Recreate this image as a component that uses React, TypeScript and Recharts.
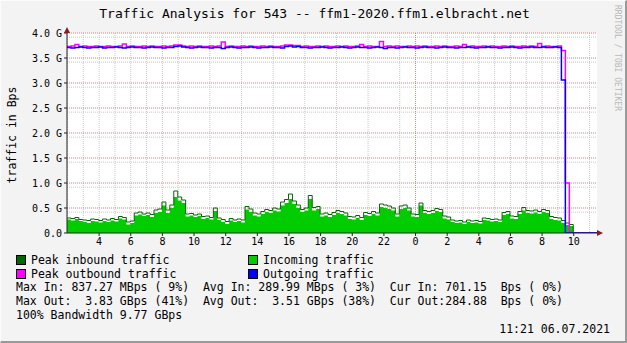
import React from 'react';
import { ComposedChart, Area, Line, XAxis, YAxis, CartesianGrid } from 'recharts';

// 15 minute samples, hours counted from midnight of 05.07.2021
const START_HOUR = 1.97;
const STEP_HOURS = 0.25;

// values in G (Bps)
const incoming = [
  0.27, 0.25, 0.28, 0.24, 0.22, 0.2, 0.24, 0.23, 0.21, 0.24,
  0.22, 0.25, 0.23, 0.29, 0.27, 0.17, 0.2, 0.35, 0.37, 0.34,
  0.36, 0.32, 0.4, 0.42, 0.55, 0.4, 0.5, 0.72, 0.65, 0.6,
  0.33, 0.35, 0.32, 0.34, 0.28, 0.3, 0.27, 0.44, 0.26, 0.22,
  0.18, 0.25, 0.22, 0.24, 0.21, 0.47, 0.42, 0.35, 0.33, 0.38,
  0.42, 0.4, 0.45, 0.43, 0.55, 0.6, 0.68, 0.58, 0.5, 0.42,
  0.45, 0.68, 0.45, 0.48, 0.33, 0.35, 0.32, 0.36, 0.4, 0.38,
  0.35, 0.28, 0.27, 0.3, 0.26, 0.36, 0.34, 0.38, 0.35, 0.52,
  0.5, 0.48, 0.45, 0.33, 0.48, 0.5, 0.45, 0.33, 0.32, 0.55,
  0.4, 0.38, 0.4, 0.44, 0.42, 0.29, 0.27, 0.22, 0.2, 0.21,
  0.18, 0.22, 0.2, 0.21, 0.19, 0.26, 0.25, 0.23, 0.24, 0.22,
  0.36, 0.38, 0.29, 0.28, 0.38, 0.45, 0.4, 0.39, 0.41, 0.38,
  0.42, 0.4, 0.28, 0.26, 0.25, 0.2, 0.16, 0.14, 0, 0,
  0, 0, 0, 0, 0,
];

const peakIn = [
  0.3, 0.29, 0.31, 0.27, 0.26, 0.25, 0.28, 0.27, 0.25, 0.28,
  0.26, 0.29, 0.27, 0.33, 0.31, 0.22, 0.24, 0.4, 0.42, 0.38,
  0.4, 0.37, 0.46, 0.48, 0.62, 0.46, 0.56, 0.84, 0.72, 0.66,
  0.38, 0.39, 0.36, 0.38, 0.33, 0.34, 0.31, 0.5, 0.3, 0.27,
  0.23, 0.29, 0.26, 0.28, 0.26, 0.53, 0.48, 0.4, 0.38, 0.43,
  0.47, 0.45, 0.5, 0.48, 0.62, 0.67, 0.78, 0.64, 0.56, 0.47,
  0.5, 0.75, 0.51, 0.53, 0.38, 0.4, 0.37, 0.41, 0.45, 0.43,
  0.4, 0.33, 0.32, 0.35, 0.31, 0.41, 0.39, 0.43, 0.4, 0.58,
  0.56, 0.54, 0.5, 0.38, 0.54, 0.56, 0.5, 0.38, 0.37, 0.6,
  0.45, 0.43, 0.45, 0.49, 0.47, 0.34, 0.32, 0.26, 0.24, 0.25,
  0.22, 0.26, 0.24, 0.25, 0.23, 0.3, 0.29, 0.27, 0.28, 0.26,
  0.41, 0.43, 0.34, 0.33, 0.43, 0.51, 0.45, 0.44, 0.46, 0.43,
  0.47, 0.45, 0.33, 0.31, 0.3, 0.25, 0.2, 0.17, 0, 0,
  0, 0, 0, 0, 0,
];

const outgoing = [
  3.71, 3.7, 3.71, 3.72, 3.71, 3.7, 3.71, 3.71, 3.72, 3.7,
  3.71, 3.71, 3.72, 3.71, 3.7, 3.71, 3.72, 3.71, 3.71, 3.7,
  3.71, 3.72, 3.71, 3.71, 3.7, 3.71, 3.71, 3.73, 3.74, 3.72,
  3.71, 3.7, 3.71, 3.72, 3.71, 3.71, 3.7, 3.71, 3.71, 3.69,
  3.71, 3.72, 3.71, 3.7, 3.71, 3.71, 3.72, 3.71, 3.7, 3.71,
  3.71, 3.72, 3.71, 3.71, 3.7, 3.73, 3.74, 3.72, 3.73, 3.71,
  3.71, 3.7, 3.71, 3.71, 3.72, 3.71, 3.7, 3.71, 3.71, 3.72,
  3.71, 3.7, 3.71, 3.72, 3.71, 3.71, 3.7, 3.71, 3.72, 3.71,
  3.69, 3.71, 3.71, 3.7, 3.71, 3.72, 3.71, 3.71, 3.7, 3.71,
  3.72, 3.71, 3.71, 3.7, 3.71, 3.72, 3.71, 3.71, 3.7, 3.71,
  3.71, 3.72, 3.71, 3.7, 3.71, 3.71, 3.72, 3.71, 3.71, 3.7,
  3.71, 3.71, 3.72, 3.71, 3.7, 3.71, 3.71, 3.72, 3.71, 3.71,
  3.72, 3.71, 3.71, 3.72, 3.71, 3.06, 0, 0, 0, 0,
  0, 0, 0, 0, 0,
];

const peakOut = [
  3.73, 3.74, 3.77, 3.73, 3.74, 3.73, 3.73, 3.74, 3.73, 3.73,
  3.74, 3.73, 3.73, 3.74, 3.78, 3.73, 3.74, 3.73, 3.73, 3.74,
  3.73, 3.74, 3.73, 3.73, 3.74, 3.73, 3.74, 3.76, 3.76, 3.74,
  3.73, 3.74, 3.73, 3.74, 3.73, 3.73, 3.74, 3.73, 3.74, 3.82,
  3.73, 3.74, 3.73, 3.73, 3.74, 3.73, 3.74, 3.73, 3.73, 3.74,
  3.73, 3.74, 3.73, 3.73, 3.74, 3.76, 3.76, 3.75, 3.75, 3.73,
  3.74, 3.73, 3.73, 3.74, 3.73, 3.74, 3.73, 3.73, 3.74, 3.73,
  3.74, 3.73, 3.73, 3.74, 3.77, 3.73, 3.74, 3.73, 3.73, 3.83,
  3.73, 3.74, 3.73, 3.74, 3.73, 3.73, 3.74, 3.73, 3.74, 3.73,
  3.74, 3.73, 3.73, 3.74, 3.73, 3.74, 3.73, 3.73, 3.74, 3.73,
  3.77, 3.73, 3.74, 3.73, 3.73, 3.74, 3.73, 3.74, 3.73, 3.73,
  3.74, 3.73, 3.74, 3.73, 3.73, 3.74, 3.73, 3.74, 3.73, 3.79,
  3.73, 3.74, 3.73, 3.73, 3.74, 3.65, 1.0, 0.02, 0, 0,
  0, 0, 0, 0, 0,
];

const yTicks = [0, 0.5, 1, 1.5, 2, 2.5, 3, 3.5, 4];
const xTicks = [4, 6, 8, 10, 12, 14, 16, 18, 20, 22, 24, 26, 28, 30, 32, 34];
const X_DOMAIN: [number, number] = [1.97, 35.47];

const statsLines = [
  'Max In: 837.27 MBps ( 9%)  Avg In: 289.99 MBps ( 3%)  Cur In: 701.15  Bps ( 0%)',
  'Max Out:  3.83 GBps (41%)  Avg Out:  3.51 GBps (38%)  Cur Out:284.88  Bps ( 0%)',
  '100% Bandwidth 9.77 GBps',
];

const data = incoming.map((v, i) => ({
  t: START_HOUR + i * STEP_HOURS,
  incoming: v,
  peakIn: peakIn[i],
  outgoing: outgoing[i],
  peakOut: peakOut[i],
}));

// grid lines: minor every hour / every 1/12 G, major every 0.5 G / midnight
const minorX = Array.from({ length: 34 }, (_, i) => i + 2).filter((h) => h !== 24);
const minorY = Array.from({ length: 47 }, (_, i) => (i + 1) / 12).filter((v) => Math.abs(v * 2 - Math.round(v * 2)) > 0.01);
const majorY = yTicks.slice(1);
const majorX = [24];

const MONO = '"DejaVu Sans Mono", monospace';

const legendItems = [
  { label: 'Peak inbound traffic', color: '#006600', left: 16, top: 254 },
  { label: 'Incoming traffic', color: '#00CC00', left: 248, top: 254 },
  { label: 'Peak outbound traffic', color: '#FF00FF', left: 16, top: 268 },
  { label: 'Outgoing traffic', color: '#0000FF', left: 248, top: 268 },
];

export default function App() {
  return (
    <div
      style={{
        position: 'absolute',
        left: 0,
        top: 0,
        width: 627,
        height: 343,
        boxSizing: 'border-box',
        background: '#f3f3f3',
        borderTop: '1px solid #fcfcfc',
        borderLeft: '1px solid #fcfcfc',
        borderRight: '2px solid #9a9a9a',
        borderBottom: '2px solid #9a9a9a',
        fontFamily: MONO,
        color: '#000',
      }}
    >
      <ComposedChart
        width={627}
        height={343}
        data={data}
        margin={{ top: 33, right: 30, bottom: 90, left: 7 }}
        style={{ position: 'absolute', left: -1, top: -1 }}
      >
        <CartesianGrid
          fill="#ffffff"
          stroke="#c8c8c8"
          strokeDasharray="1 1"
          horizontalValues={minorY}
          verticalValues={minorX}
        />
        <CartesianGrid
          stroke="#e08080"
          strokeDasharray="1 1"
          horizontalValues={majorY}
          verticalValues={majorX}
        />
        <XAxis
          type="number"
          dataKey="t"
          domain={X_DOMAIN}
          ticks={xTicks}
          tickFormatter={(h: number) => String(h % 24)}
          height={20}
          tickSize={3}
          tickMargin={2}
          stroke="#222"
          tick={{ fill: '#000', fontSize: 10, fontFamily: MONO }}
          allowDataOverflow
        />
        <YAxis
          type="number"
          domain={[0, 4]}
          ticks={yTicks}
          tickFormatter={(v: number) => (v === 0 ? '0.0' : v.toFixed(1) + ' G')}
          width={60}
          tickSize={3}
          tickMargin={2}
          stroke="#222"
          tick={{ fill: '#000', fontSize: 10, fontFamily: MONO }}
          allowDataOverflow
        />
        <Area
          type="stepAfter"
          dataKey="incoming"
          fill="#00CC00"
          fillOpacity={1}
          stroke="none"
          isAnimationActive={false}
        />
        <Line type="stepAfter" dataKey="peakIn" stroke="#006600" strokeWidth={1} dot={false} isAnimationActive={false} />
        <Line type="stepAfter" dataKey="peakOut" stroke="#FF00FF" strokeWidth={1.5} dot={false} isAnimationActive={false} />
        <Line type="stepAfter" dataKey="outgoing" stroke="#0000FF" strokeWidth={1.5} dot={false} isAnimationActive={false} />
      </ComposedChart>

      {/* arrows */}
      <svg width={627} height={343} style={{ position: 'absolute', left: -1, top: -1, pointerEvents: 'none' }}>
        <polygon points="64,33 70,33 67,27" fill="#8b1a1a" />
        <polygon points="597,230 597,236 603,233" fill="#8b1a1a" />
      </svg>

      <div
        style={{
          position: 'absolute',
          left: 0,
          top: 4,
          width: 627,
          textAlign: 'center',
          fontSize: 13,
          lineHeight: '18px',
        }}
      >
        Traffic Analysis for 543 -- ffm1-2020.ffm1.elbracht.net
      </div>

      <div
        style={{
          position: 'absolute',
          left: 11,
          top: 134,
          fontSize: 11.5,
          lineHeight: '14px',
          whiteSpace: 'nowrap',
          transform: 'translate(-50%, -50%) rotate(-90deg)',
        }}
      >
        traffic in Bps
      </div>

      <div
        style={{
          position: 'absolute',
          left: 612,
          top: 4,
          fontSize: 8,
          color: '#b8b8b8',
          writingMode: 'vertical-rl',
          whiteSpace: 'nowrap',
        }}
      >
        RRDTOOL / TOBI OETIKER
      </div>

      {legendItems.map((it) => (
        <div
          key={it.label}
          style={{ position: 'absolute', left: it.left - 1, top: it.top - 1, display: 'flex', alignItems: 'center', fontSize: 11.5, lineHeight: '12px' }}
        >
          <span style={{ display: 'inline-block', width: 8, height: 8, background: it.color, border: '1px solid #000', marginRight: 5 }} />
          <span>{it.label}</span>
        </div>
      ))}

      {statsLines.map((s, i) => (
        <div
          key={i}
          style={{ position: 'absolute', left: 15, top: 279 + i * 14, fontSize: 11.5, lineHeight: '14px', whiteSpace: 'pre' }}
        >
          {s}
        </div>
      ))}

      <div style={{ position: 'absolute', right: 15, top: 321, fontSize: 11.5, lineHeight: '14px', whiteSpace: 'pre' }}>
        11:21 06.07.2021
      </div>
    </div>
  );
}
